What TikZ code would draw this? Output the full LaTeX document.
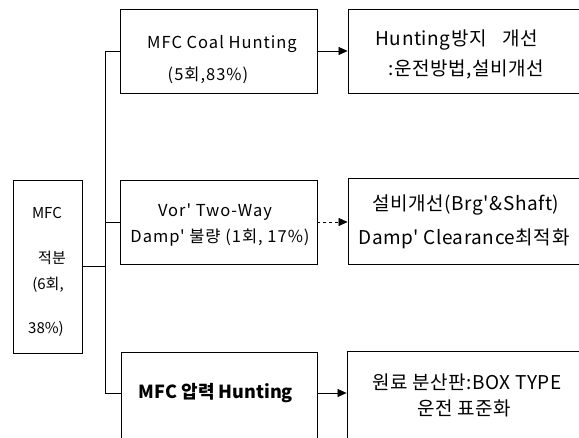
\documentclass[tikz,border=0pt]{standalone}
\usepackage{fontspec}
\setmainfont{Noto Sans CJK KR}[Ligatures=TeXOff]
\newfontfamily\spaced{Noto Sans CJK KR}[LetterSpace=6]
\newfontfamily\rspaced{Noto Sans CJK KR}[LetterSpace=3]
\usetikzlibrary{arrows.meta}
\begin{document}
\begin{tikzpicture}[x=1pt,y=-1pt,
  frame/.style={draw,line width=0.9pt,inner sep=0pt},
  lbl/.style={inner sep=0pt,font=\fontsize{15}{16}\selectfont},
  mtxt/.style={inner sep=0pt,font=\spaced\fontsize{16.5}{18}\selectfont},
  rtxt/.style={inner sep=0pt,font=\rspaced\fontsize{19}{20}\selectfont},
  link/.style={line width=0.9pt},
  arr/.style={line width=0.6pt,-{Triangle[length=9pt,width=8pt]}}]
\clip (0,0) rectangle (579,437);
% left box
\node[frame,minimum width=69pt,minimum height=173pt] (L) at (47.5,266.5) {};
\node[lbl] (l1) at (47,213) {MFC};
\node[lbl] (l2) at (52,258) {적분};
\node[lbl] (l3) at (48,285) {(6회,};
\node[lbl] (l4) at (46,329) {38\%)};
% middle boxes
\node[frame,minimum width=197pt,minimum height=84pt] (B1) at (218.5,51) {};
\node[mtxt] (b1a) at (222,44) {MFC Coal Hunting};
\node[mtxt] (b1b) at (208,75) {(5회,83\%)};
\node[frame,minimum width=197pt,minimum height=84pt] (B2) at (218.5,222) {};
\node[mtxt] (b2a) at (215,212) {Vor' Two-Way};
\node[mtxt] (b2b) at (220,238) {Damp' 불량 (1회, 17\%)};
\node[frame,minimum width=196pt,minimum height=88pt] (B3) at (219.5,396) {};
\node[inner sep=0pt,font=\bfseries\fontsize{18}{20}\selectfont] (b3a) at (216,393) {MFC 압력 Hunting};
% right boxes
\node[frame,minimum width=242pt,minimum height=84pt] (R1) at (469,51) {};
\node[rtxt] (r1a) at (457,40) {Hunting방지\hspace{0.6em} 개선};
\node[rtxt] (r1b) at (466,69) {:운전방법,설비개선};
\node[frame,minimum width=242pt,minimum height=86pt] (R2) at (469,221) {};
\node[rtxt] (r2a) at (466,205) {설비개선(Brg'\&Shaft)};
\node[rtxt] (r2b) at (464,239) {Damp' Clearance최적화};
\node[frame,minimum width=243pt,minimum height=89pt] (R3) at (468.5,395.5) {};
\node[rtxt] (r3a) at (467,382) {원료 분산판:BOX TYPE};
\node[rtxt] (r3b) at (464,408) {운전 표준화};
% trunk
\coordinate (T1) at (105,51);
\coordinate (T3) at (105,393);
\draw[link] (B1.west) -- (T1) -- (T3) -- (T3 -| B3.west);
\draw[link] (L.east) -- (L.east -| T1);
\draw[link] (B2.west) -- (B2.west -| T1);
% arrows
\draw[arr] (B1.east) -- (B1.east -| R1.west);
\draw[arr,dashed] (B2.east) -- (B2.east -| R2.west);
\draw[arr] (T3 -| B3.east) -- (T3 -| R3.west);
\end{tikzpicture}
\end{document}
